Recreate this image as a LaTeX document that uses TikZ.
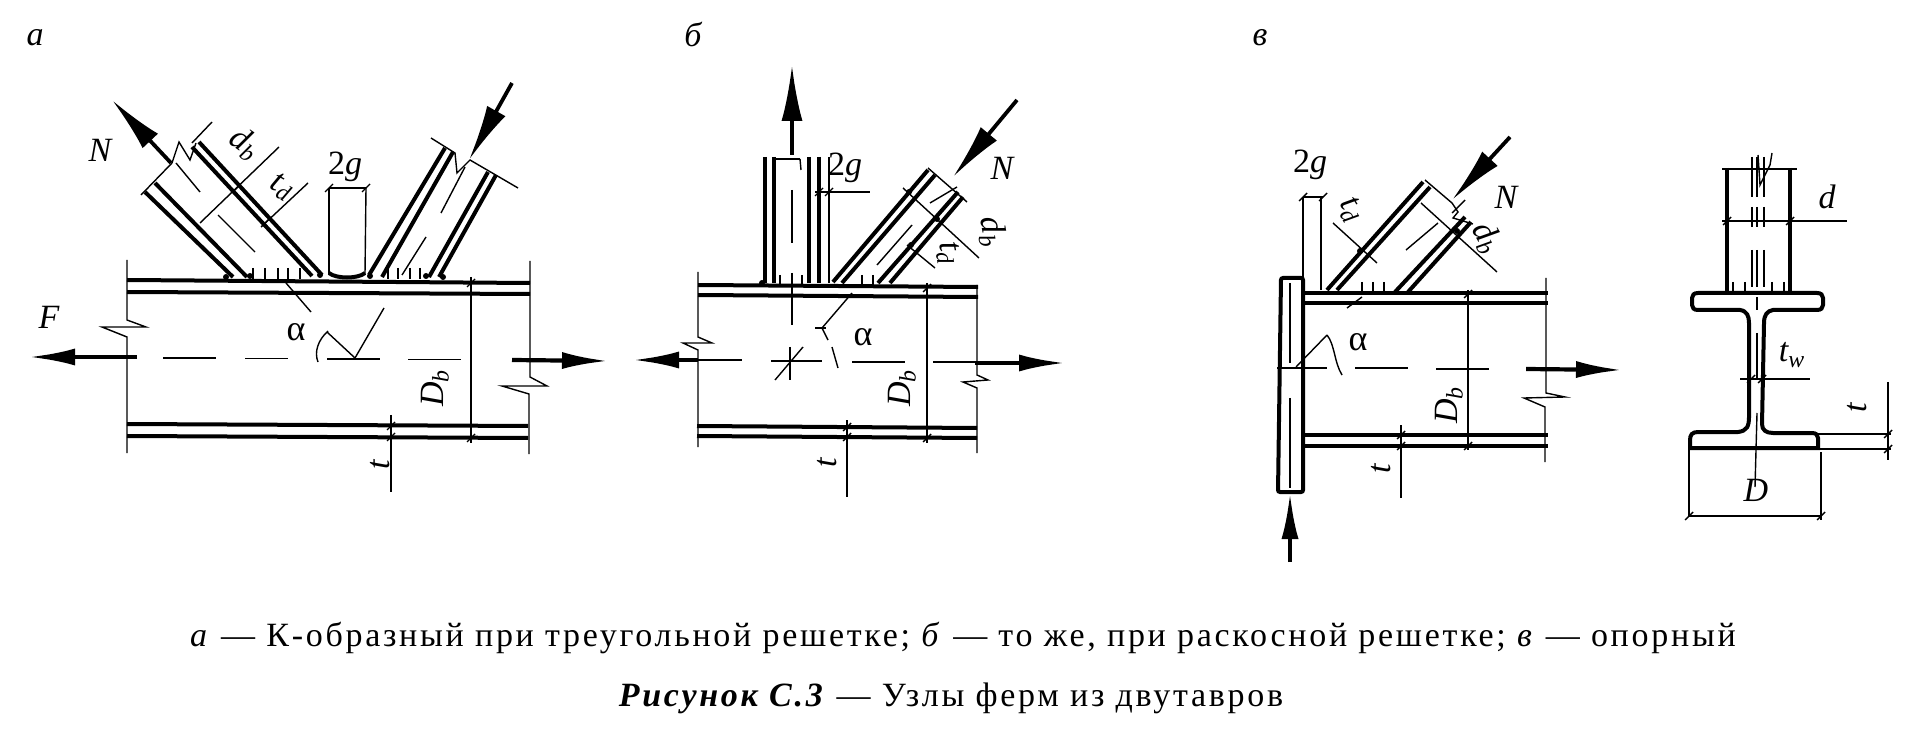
\documentclass[tikz,border=0pt]{standalone}
\usepackage{fontspec}
\setmainfont{Liberation Serif}
\newfontfamily\capfont[LetterSpace=8]{Liberation Serif}
\usetikzlibrary{arrows.meta}
\begin{document}
\begin{tikzpicture}[x=0.5pt, y=-0.5pt]
  \fill [white] (0, 0) rectangle (1905, 732);  % Blatt
  \useasboundingbox (0, 0) rectangle (1905, 732);
  \tikzstyle{wall}=[line width=2pt]
  \tikzstyle{fine}=[line width=0.7pt]
  \tikzstyle{force}=[line width=2.1pt, -{Latex[length=23pt, width=8.5pt]}]
  \tikzstyle{strut}=[line width=1.9pt, -{Latex[length=28pt, width=10.5pt]}]
  \tikzstyle{lab}=[inner sep=0pt, font=\fontsize{17}{18}\selectfont\itshape]
  \tikzstyle{greek}=[inner sep=0pt, font=\fontsize{18}{18}\selectfont]
  \tikzstyle{caption}=[inner sep=0pt, font=\fontsize{17}{18}\selectfont\capfont]

  % a
  \node[lab] (labA)  at (35,   38)  {а};
  \node[lab] (Fa)    at (49,   317) {F};
  \node[lab] (Na)    at (100,  150) {N};
  \node[lab, rotate=-35] (dbA) at (245, 144) {d\textsubscript{b}};
  \node[lab, rotate=-30] (tdA) at (282, 187) {t\textsubscript{d}};
  \node[lab] (gA)    at (345,  167) {\upshape 2\itshape g};
  \node[greek] (alA) at (296,  332) {α};
  \node[lab, rotate=90] (DbA) at (435, 388) {D\textsubscript{b}};
  \node[lab, rotate=90] (tA)  at (380, 465) {t};

  \foreach \xa/\ya/\xb/\yb in {127/280/530/283, 127/292/530/294, 127/424/528/426, 127/436/528/438,
      145/192/233/277, 155/183/247/277, 192/147/312/276, 199/142/322/275,
      445/148/369/275, 453/152/382/277, 488/172/429/277, 496/175/439/277}
    \draw[wall] (\xa,\ya) -- (\xb,\yb);
  \draw[fine] (127,260) -- (127,320) -- (146,327) -- (102,327) -- (127,337) -- (127,453);
  \draw[fine] (530,261) -- (530,377) -- (547,386) -- (502,386) -- (529,394) -- (529,454);
  \foreach \xa/\xb/\y in {163/216/358, 245/288/358.5, 327/380/359, 408/461/359.5}
    \draw[fine] (\xa,\y) -- (\xb,\y);
  \foreach \xa/\ya/\xb/\yb in {218/215/255/252, 176/163/200/192, 426/237/402/275, 465/167/441/213,
      279/147/200/223, 308/183/261/227, 212/122/192/143, 329/188/366/188,
      329/188/329/275, 366/188/365/274, 286/283/311/312, 327/332/355/358, 355/358/384/308,
      471/277/471/443, 391/415/391/492}
    \draw[fine] (\xa,\ya) -- (\xb,\yb);
  \draw[fine] (141,195) -- (172,163) -- (179,142) -- (190,160) -- (196,143);
  \draw[fine] (431,138) -- (455,153) -- (457,173) -- (470,160) -- (518,188);
  \draw[fine] (328,331) .. controls (318,340) and (314,352) .. (318,362);
  \draw[wall] (329,273) .. controls (336,279) and (358,279) .. (365,273);
  \foreach \x in {253,265,278,288,300,388,398,410,420}
    \draw[fine] (\x,268) -- (\x,279);
  \foreach \x/\y in {329/188,366/188,236/189,266/222,471/283,471/438,391/426,391/437}
    \draw[fine] (\x-4,\y+4) -- (\x+4,\y-4);
  \foreach \x/\y in {226/277,250/276,320/275,370/276,426/276,443/277}
    \fill (\x,\y) circle (3);
  \coordinate (a1) at (137, 357);
  \coordinate (a2) at (29,  357);
  \coordinate (a3) at (512, 360);
  \coordinate (a4) at (608, 361);
  \coordinate (a5) at (171, 163);
  \coordinate (a6) at (112, 100);
  \coordinate (a7) at (512, 83);
  \coordinate (a8) at (469, 160);
  \draw[force] (a1) -- (a2);
  \draw[force] (a3) -- (a4);
  \draw[strut] (a5) -- (a6);
  \draw[strut] (a7) -- (a8);

  % b
  \node[lab] (labB)  at (693,  35)  {б};
  \node[lab] (gB)    at (845,  168) {\upshape 2\itshape g};
  \node[lab] (Nb)    at (1002, 168) {N};
  \node[lab, rotate=-80] (dbB) at (992, 232) {d\textsubscript{b}};
  \node[lab, rotate=-80] (tdB) at (948, 253) {t\textsubscript{d}};
  \node[greek] (alB) at (863,  337) {α};
  \node[lab, rotate=90] (DbB) at (902, 388) {D\textsubscript{b}};
  \node[lab, rotate=90] (tB)  at (827, 463) {t};

  \foreach \xa/\ya/\xb/\yb in {698/285/978/287, 698/295/978/297, 697/426/977/428, 697/436/977/438,
      765/157/765/283, 774/157/774/283, 809/157/809/283, 819/157/819/283,
      928/170/833/282, 935/175/842/283, 958/192/878/283, 963/197/890/283}
    \draw[wall] (\xa,\ya) -- (\xb,\yb);
  \draw[fine] (698,272) -- (698,337) -- (712,343) -- (683,343) -- (698,350) -- (698,447);
  \draw[fine] (977,285) -- (977,375) -- (988,380) -- (963,382) -- (977,388) -- (977,453);
  \foreach \xa/\xb/\y in {698/742/360, 771/822/361, 852/905/362, 933/977/362}
    \draw[fine] (\xa,\y) -- (\xb,\y);
  \foreach \xa/\ya/\xb/\yb in {829/157/829/283, 774/159/800/159, 800/159/801/170, 815/192/870/192,
      792/190/792/243, 792/273/792/325, 790/347/790/380, 775/380/803/347,
      912/225/877/265, 957/187/930/203, 928/168/967/202, 903/188/979/258, 907/245/935/268,
      852/293/822/328, 815/328/826/328, 822/328/828/340, 832/347/838/368, 927/283/927/443, 847/420/847/497}
    \draw[fine] (\xa,\ya) -- (\xb,\yb);
  \foreach \x in {780,792,802,862,873}
    \draw[fine] (\x,275) -- (\x,285);
  \foreach \x/\y in {819/192,829/192,847/427,847/437,927/288,927/438}
    \draw[fine] (\x-4,\y+4) -- (\x+4,\y-4);
  \foreach \x/\y in {762/283,909/192,937/219,911/245}
    \fill (\x,\y) circle (3);
  \coordinate (b1) at (698,  360);
  \coordinate (b2) at (633,  360);
  \coordinate (b3) at (975,  363);
  \coordinate (b4) at (1065, 363);
  \coordinate (b5) at (792,  155);
  \coordinate (b6) at (792,  65);
  \coordinate (b7) at (1017, 100);
  \coordinate (b8) at (953,  177);
  \draw[force] (b1) -- (b2);
  \draw[force] (b3) -- (b4);
  \draw[strut] (b5) -- (b6);
  \draw[strut] (b7) -- (b8);

  % v
  \node[lab] (labC)  at (1260, 38)  {в};
  \node[lab] (gC)    at (1310, 165) {\upshape 2\itshape g};
  \node[lab] (Nc)    at (1506, 197) {N};
  \node[lab, rotate=-60] (dbC) at (1487, 238) {d\textsubscript{b}};
  \node[lab, rotate=-60] (tdC) at (1351, 210) {t\textsubscript{d}};
  \node[greek] (alC) at (1358, 342) {α};
  \node[lab, rotate=90] (DbC) at (1449, 405) {D\textsubscript{b}};
  \node[lab, rotate=90] (tC)  at (1381, 469) {t};

  \draw[wall, rounded corners=1pt] (1281,278) -- (1303,278) -- (1303,492) -- (1278,492) -- cycle;
  \foreach \xa/\ya/\xb/\yb in {1303/293/1548/293, 1303/303/1548/303, 1303/435/1548/435, 1303/446/1548/446,
      1423/182/1327/290, 1430/187/1337/290, 1465/217/1395/292, 1471/222/1408/292}
    \draw[wall] (\xa,\ya) -- (\xb,\yb);
  \draw[fine] (1546,278) -- (1546,393) -- (1565,397) -- (1524,398) -- (1545,407) -- (1545,462);
  \foreach \xa/\xb/\y in {1277/1327/368, 1355/1408/368, 1436/1489/369}
    \draw[fine] (\xa,\y) -- (\xb,\y);
  \foreach \xa/\ya/\xb/\yb in {1290/283/1290/363, 1290/398/1290/488, 1303/197/1303/278, 1321/197/1321/290,
      1303/197/1323/197, 1406/250/1438/223, 1465/200/1452/213, 1421/203/1497/272, 1333/223/1377/263,
      1296/367/1327/335, 1347/308/1362/297, 1468/290/1468/450, 1401/425/1401/498}
    \draw[fine] (\xa,\ya) -- (\xb,\yb);
  \draw[fine] (1425,180) -- (1452,203) -- (1458,212) -- (1453,218) -- (1473,224);
  \draw[fine] (1327,335) .. controls (1335,345) and (1334,362) .. (1342,375);
  \foreach \x in {1362,1373,1384}
    \draw[fine] (\x,282) -- (\x,292);
  \foreach \x/\y in {1303/197,1323/197,1401/435,1401/446,1468/294,1468/446}
    \draw[fine] (\x-4,\y+4) -- (\x+4,\y-4);
  \foreach \x/\y in {1360/251,1457/231}
    \fill (\x,\y) circle (3);
  \coordinate (c1) at (1526, 369);
  \coordinate (c2) at (1622, 370);
  \coordinate (c3) at (1290, 562);
  \coordinate (c4) at (1290, 493);
  \coordinate (c5) at (1510, 137);
  \coordinate (c6) at (1452, 200);
  \draw[force] (c1) -- (c2);
  \draw[force] (c3) -- (c4);
  \draw[strut] (c5) -- (c6);

  % section
  \node[lab] (dS)    at (1827, 197) {d};
  \node[lab] (twS)   at (1792, 355) {t\textsubscript{w}};
  \node[lab] (DS)    at (1756, 490) {D};
  \node[lab, rotate=90] (tS) at (1857, 408) {t};

  \draw[wall] (1740,310) .. controls (1747,311) and (1749,316) .. (1749,323) -- (1749,417)
    .. controls (1749,426) and (1747,431) .. (1738,432) -- (1698,432)
    .. controls (1692,432) and (1690,435) .. (1690,440) -- (1690,448) -- (1818,448) -- (1818,438)
    .. controls (1818,435) and (1816,433) .. (1812,433) -- (1773,433)
    .. controls (1766,433) and (1762,430) .. (1762,424) -- (1764,323)
    .. controls (1764,315) and (1767,311) .. (1773,310) -- (1817,310)
    .. controls (1821,310) and (1823,308) .. (1823,305) -- (1823,298)
    .. controls (1823,295) and (1821,293) .. (1817,293) -- (1698,293)
    .. controls (1694,293) and (1692,295) .. (1692,298) -- (1692,305)
    .. controls (1692,308) and (1694,310) .. (1698,310) -- cycle;
  \draw[wall] (1727,168) -- (1727,293);
  \draw[wall] (1790,168) -- (1790,293);
  \foreach \xa/\ya/\xb/\yb in {1722/169/1797/169, 1752/157/1752/197, 1757/157/1757/197, 1764/157/1764/197,
      1752/207/1752/227, 1757/207/1757/227, 1764/207/1764/227,
      1752/250/1752/287, 1757/250/1757/287, 1764/250/1764/287,
      1722/221/1847/221, 1757/297/1757/310, 1757/333/1757/380, 1757/413/1755/487,
      1689/448/1689/516, 1821/452/1821/520, 1688/516/1821/516,
      1740/379/1810/379, 1818/434/1891/434, 1818/449/1891/449, 1888/382/1888/460}
    \draw[fine] (\xa,\ya) -- (\xb,\yb);
  \draw[fine] (1758,155) -- (1760,185) -- (1770,165) -- (1772,153);
  \foreach \x in {1733,1745,1772,1784}
    \draw[fine] (\x,282) -- (\x,293);
  \foreach \x/\y in {1727/221,1790/221,1751/379,1762/379,1689/516,1821/516,1888/434,1888/449}
    \draw[fine] (\x-4,\y+4) -- (\x+4,\y-4);

  % caption
  \node[caption] (capA) at (963, 638) {\textit{а} — К-образный при треугольной решетке; \textit{б} — то же, при раскосной решетке; \textit{в} — опорный};
  \node[caption] (capB) at (951, 698) {\textbf{\textit{Рисунок С.3}} — Узлы ферм из двутавров};
\end{tikzpicture}
\end{document}
